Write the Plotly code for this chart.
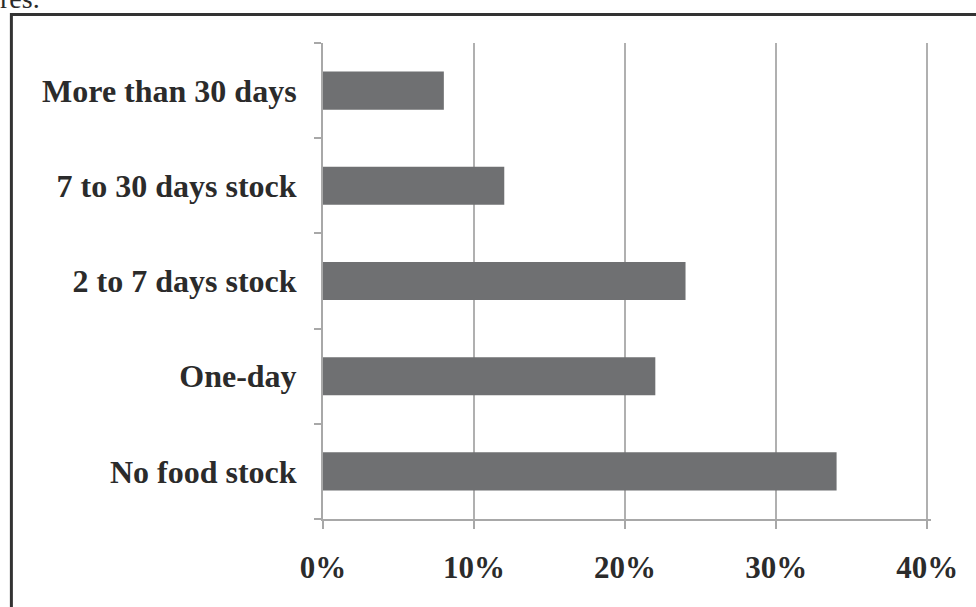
import plotly.graph_objects as go

categories = ["No food stock", "One-day", "2 to 7 days stock", "7 to 30 days stock", "More than 30 days"]
values = [34, 22, 24, 12, 8]
x_ticks = [0, 10, 20, 30, 40]
x_tick_labels = ["0%", "10%", "20%", "30%", "40%"]
x_max = 40.25

W, H = 976, 607
L, T, B = 323, 43, 88
x40_px = 927
pw = (x40_px - L) * x_max / 40
R = W - L - pw
ph = H - T - B

def px_to_paper_x(px):
    return (px - L) / pw

def px_to_paper_y(py):
    return (H - B - py) / ph

fig = go.Figure(go.Bar(
    x=values, y=categories, orientation="h",
    marker=dict(color="#6f7072", line=dict(width=0)),
    width=0.4,
))

font_family = "Liberation Serif, Times New Roman, serif"

fig.update_layout(
    width=W, height=H,
    margin=dict(l=L, r=R, t=T, b=B, pad=0),
    paper_bgcolor="white", plot_bgcolor="white",
    showlegend=False,
    font=dict(family=font_family, color="#2b2b2b"),
    xaxis=dict(
        range=[0, x_max], tickvals=x_ticks, ticktext=x_tick_labels,
        showgrid=True, gridcolor="#b0b0b0", gridwidth=2,
        zeroline=False, showline=True, linecolor="#a8a8a8", linewidth=2,
        ticks="outside", ticklen=8, tickwidth=2, tickcolor="#a8a8a8",
        tickfont=dict(family=font_family, size=31, color="#2b2b2b", weight="bold"),
        ticklabelstandoff=12, fixedrange=True,
    ),
    yaxis=dict(
        categoryorder="array", categoryarray=categories,
        showgrid=False, zeroline=False, showline=True, linecolor="#a8a8a8", linewidth=2,
        ticks="outside", tickson="boundaries", ticklen=7, tickwidth=2, tickcolor="#a8a8a8",
        tickfont=dict(family=font_family, size=32, color="#2b2b2b", weight="bold"),
        ticklabelstandoff=18, fixedrange=True,
    ),
    shapes=[
        dict(type="rect", xref="paper", yref="paper",
             x0=px_to_paper_x(11.5), x1=px_to_paper_x(1100),
             y0=px_to_paper_y(800), y1=px_to_paper_y(14.5),
             line=dict(color="#333333", width=3), fillcolor="rgba(0,0,0,0)", layer="below"),
    ],
    annotations=[
        dict(text="res.", xref="paper", yref="paper", x=px_to_paper_x(-2), y=px_to_paper_y(16),
             xanchor="left", yanchor="bottom", showarrow=False,
             font=dict(family=font_family, size=28, color="#2b2b2b")),
    ],
)

fig.write_html("out.html")
